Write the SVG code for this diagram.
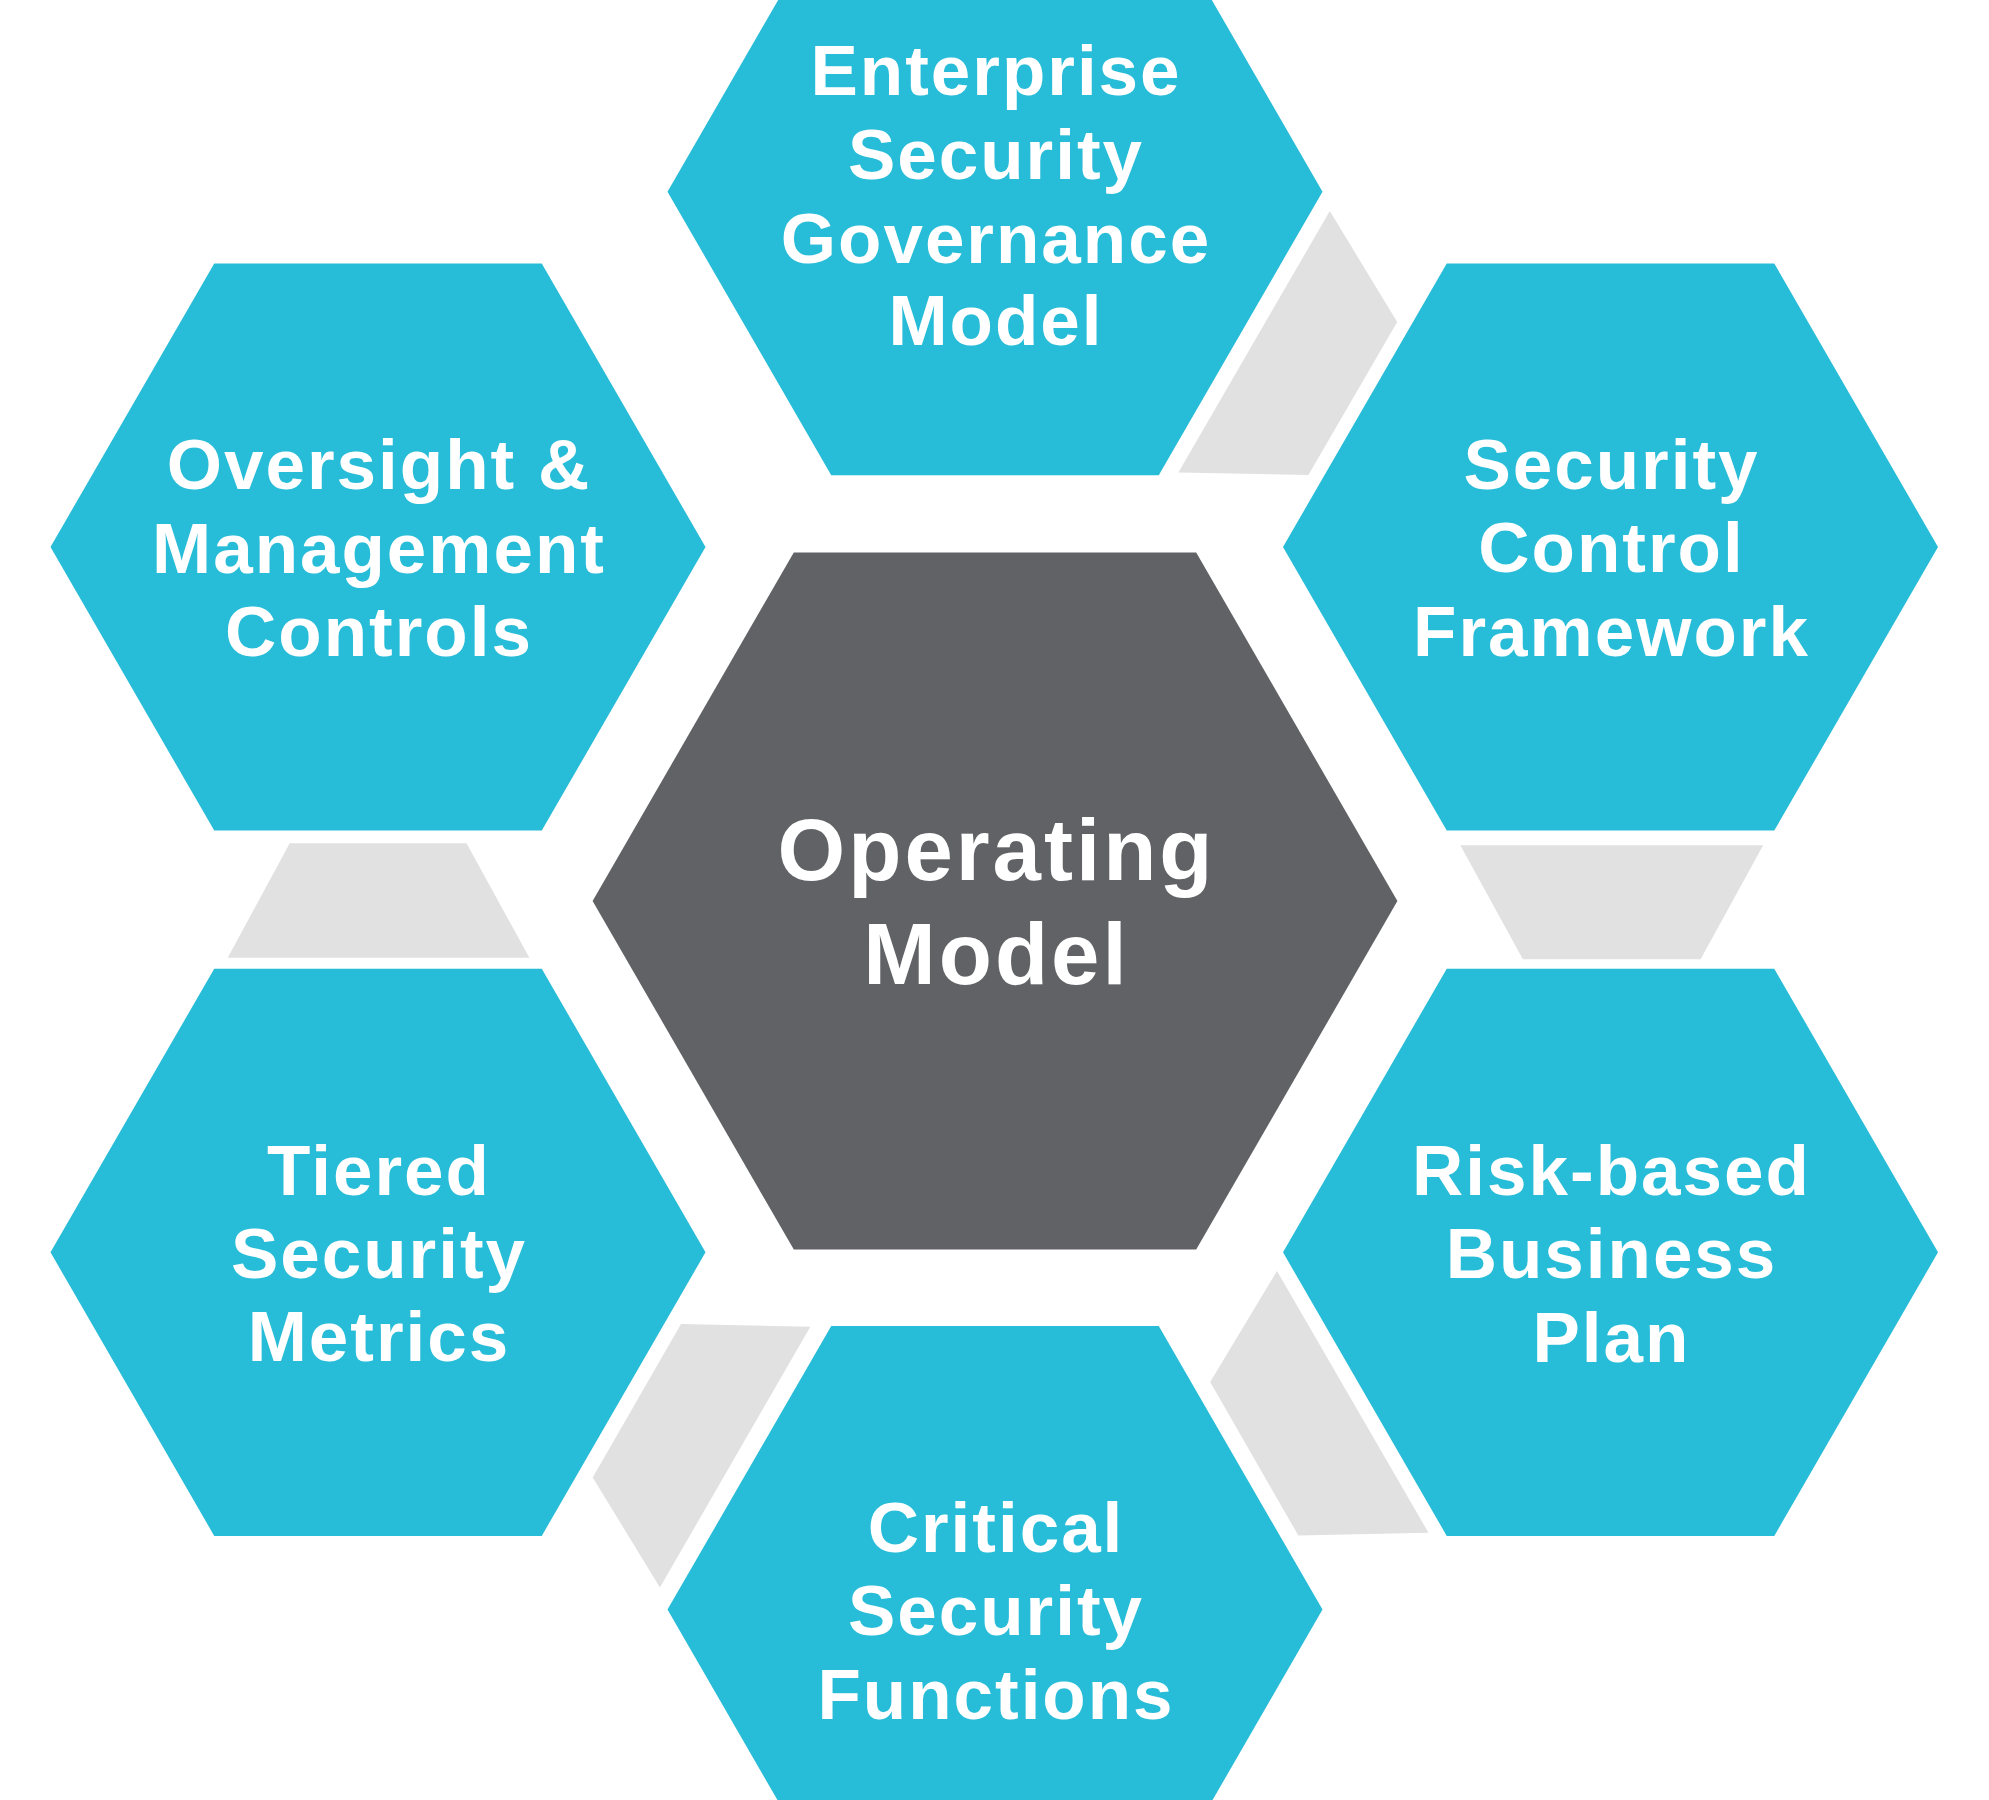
<svg xmlns="http://www.w3.org/2000/svg" width="1989" height="1800" viewBox="0 0 1989 1800">
<style>
.hex{fill:#27BCD7}
.core{fill:#616265}
.link{fill:#E1E1E1}
text{font-family:"Liberation Sans",Arial,sans-serif;font-weight:700;fill:#FFFFFF;text-anchor:middle}
.s{font-size:71px;letter-spacing:2px}
.b{font-size:87px;letter-spacing:3px}
</style>
<rect width="1989" height="1800" fill="#FFFFFF"/>
<g id="connectors">
<polygon class="link" points="1329.8,211 1397.2,322 1308.4,475 1178.4,472.6"/>
<polygon class="link" points="1460.3,845.3 1763.2,845.3 1700.6,959.2 1522.9,959.2"/>
<polygon class="link" points="1277,1271 1428.5,1532.7 1298.3,1535.5 1210.2,1382"/>
<polygon class="link" points="681,1324 810.3,1326.8 659.9,1587.5 592.7,1477.4"/>
<polygon class="link" points="289.7,843.3 466.5,843.3 529.4,957.7 227.7,957.7"/>
</g>
<g id="node-enterprise">
<polygon class="hex" points="667.5,191.7 831.25,-91.9 1158.75,-91.9 1322.5,191.7 1158.75,475.3 831.25,475.3"/>
<text class="s" x="996" y="95">Enterprise</text>
<text class="s" x="996" y="179">Security</text>
<text class="s" x="996" y="263">Governance</text>
<text class="s" x="996" y="345">Model</text>
</g>
<g id="node-oversight">
<polygon class="hex" points="50.5,547 214.25,263.4 541.75,263.4 705.5,547 541.75,830.6 214.25,830.6"/>
<text class="s" x="379" y="489">Oversight &amp;</text>
<text class="s" x="379" y="573">Management</text>
<text class="s" x="379" y="656">Controls</text>
</g>
<g id="node-framework">
<polygon class="hex" points="1283,547 1446.75,263.4 1774.25,263.4 1938,547 1774.25,830.6 1446.75,830.6"/>
<text class="s" x="1611.5" y="489">Security</text>
<text class="s" x="1611.5" y="572">Control</text>
<text class="s" x="1611.5" y="656">Framework</text>
</g>
<g id="node-operating">
<polygon class="core" points="592.6,901 793.8,552.5 1196.2,552.5 1397.4,901 1196.2,1249.5 793.8,1249.5"/>
<text class="b" x="996.5" y="880">Operating</text>
<text class="b" x="996.5" y="984">Model</text>
</g>
<g id="node-metrics">
<polygon class="hex" points="50.5,1252.3 214.25,968.7 541.75,968.7 705.5,1252.3 541.75,1535.9 214.25,1535.9"/>
<text class="s" x="379" y="1195">Tiered</text>
<text class="s" x="379" y="1278">Security</text>
<text class="s" x="379" y="1361">Metrics</text>
</g>
<g id="node-business">
<polygon class="hex" points="1283,1252.3 1446.75,968.7 1774.25,968.7 1938,1252.3 1774.25,1535.9 1446.75,1535.9"/>
<text class="s" x="1611.5" y="1195">Risk-based</text>
<text class="s" x="1611.5" y="1278">Business</text>
<text class="s" x="1611.5" y="1362">Plan</text>
</g>
<g id="node-functions">
<polygon class="hex" points="667.5,1609.6 831.25,1326 1158.75,1326 1322.5,1609.6 1158.75,1893.2 831.25,1893.2"/>
<text class="s" x="996" y="1552">Critical</text>
<text class="s" x="996" y="1635">Security</text>
<text class="s" x="996" y="1719">Functions</text>
</g>
</svg>
